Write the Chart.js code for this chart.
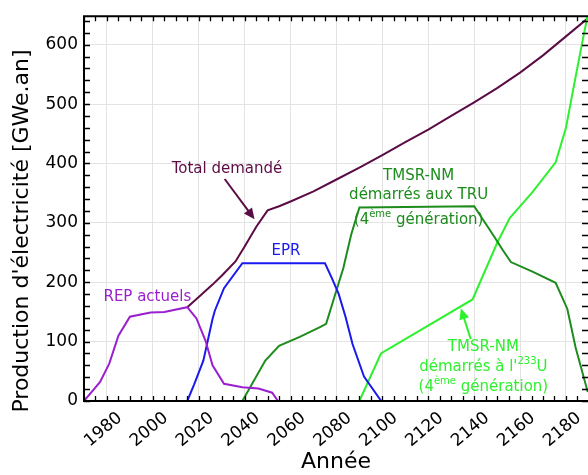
<!DOCTYPE html>
<html>
<head>
<meta charset="utf-8">
<script src="https://cdn.jsdelivr.net/npm/chart.js@4.4.1/dist/chart.umd.min.js"></script>
<style>
  html, body { margin: 0; padding: 0; background: #fff; }
</style>
</head>
<body>
<canvas id="chart" width="588" height="475"></canvas>
<script>
// tick labels
const xTickYears = [1980, 2000, 2020, 2040, 2060, 2080, 2100, 2120, 2140, 2160, 2180];
const yTickValues = [0, 100, 200, 300, 400, 500, 600];

// Total demandé
const totalYears  = [2015, 2020, 2026, 2030, 2036, 2040, 2045, 2050, 2055, 2060, 2070, 2080, 2090, 2100, 2110, 2120, 2130, 2140, 2150, 2160, 2170, 2180, 2190];
const totalValues = [158, 175, 196, 211, 235, 260, 293, 321, 328, 336, 353, 373, 393, 414, 436, 457, 480, 503, 527, 553, 582, 614, 646];

// REP actuels
const repYears  = [1970, 1977, 1981, 1985, 1990, 1999, 2005, 2015, 2019, 2023, 2026, 2031, 2039, 2046, 2052, 2054.5];
const repValues = [0, 32, 63, 110, 142, 149, 150, 158, 139, 101, 60, 29, 23, 21, 14, 0];

// EPR
const eprYears  = [2015, 2018, 2022, 2026, 2027, 2031, 2039, 2075, 2078, 2081, 2084, 2087, 2092, 2099.5];
const eprValues = [0, 28, 68, 138, 152, 190, 232, 232, 207, 180, 141, 96, 41, 0];

// TMSR-NM démarrés aux TRU
const truYears  = [2039, 2049, 2055, 2064, 2072.6, 2075.5, 2079, 2083, 2086.4, 2090, 2140, 2143.6, 2148.7, 2152.3, 2156, 2165.4, 2175.5, 2180.6, 2184.2, 2189.5];
const truValues = [0, 68, 93, 108, 124, 130, 174, 224, 280, 326, 328, 307, 277, 255, 234, 218, 199, 155, 90, 15];

// TMSR-NM démarrés à l'233U
const u233Years  = [2090, 2099.4, 2139.3, 2150, 2155.5, 2165.5, 2175.5, 2180, 2184.2, 2187.5, 2189.5];
const u233Values = [0, 80, 171, 266, 308, 352, 402, 460, 546, 612, 650];

const pts = (xs, ys) => xs.map((x, i) => ({ x: x, y: ys[i] }));

const FONT = "'DejaVu Sans', sans-serif";
const C_TOTAL = '#5c0c45';
const C_REP = '#9b1fcf';
const C_EPR = '#1a1aee';
const C_TRU = '#1d8c1d';
const C_U233 = '#2ef02e';

function line(label, data, color) {
  return {
    label: label,
    data: data,
    borderColor: color,
    backgroundColor: color,
    borderWidth: 2,
    pointRadius: 0,
    fill: false,
    tension: 0
  };
}

// labels on the plot
const notes = [
  { lines: [[['Total demandé', 0]]], x: 2032.3, y: 390, color: C_TOTAL },
  { lines: [[['EPR', 0]]], x: 2058, y: 252, color: C_EPR },
  { lines: [[['REP actuels', 0]]], x: 1997.6, y: 175.5, color: C_REP },
  { lines: [[['TMSR-NM', 0]], [['démarrés aux TRU', 0]], [['(4', 0], ['ème', 1], [' génération)', 0]]],
    x: 2115.8, y: 379.5, dy: [0, 33.5, 75], color: C_TRU },
  { lines: [[['TMSR-NM', 0]], [["démarrés à l'", 0], ['233', 1], ['U', 0]], [['(4', 0], ['ème', 1], [' génération)', 0]]],
    x: 2144, y: 90.5, dy: [0, 33.5, 66.5], color: C_U233 }
];
const arrows = [
  { from: [2031.3, 373.8], to: [2044.3, 306], color: C_TOTAL },
  { from: [2138.5, 104.5], to: [2134.2, 156], color: C_U233 }
];

function drawRich(ctx, parts, cx, cy, size) {
  const supSize = Math.round(size * 0.65);
  let w = 0;
  parts.forEach(p => {
    ctx.font = (p[1] ? supSize : size) + 'px ' + FONT;
    w += ctx.measureText(p[0]).width;
  });
  let x = cx - w / 2;
  parts.forEach(p => {
    ctx.font = (p[1] ? supSize : size) + 'px ' + FONT;
    ctx.fillText(p[0], x, p[1] ? cy - size * 0.38 : cy);
    x += ctx.measureText(p[0]).width;
  });
}

const decorations = {
  id: 'decorations',
  afterDatasetsDraw(chart) {
    const ctx = chart.ctx;
    const xs = chart.scales.x, ys = chart.scales.y;
    ctx.save();
    ctx.textBaseline = 'middle';
    ctx.textAlign = 'left';
    notes.forEach(n => {
      ctx.fillStyle = n.color;
      const cx = xs.getPixelForValue(n.x);
      n.lines.forEach((ln, i) => {
        const v = n.y - (n.dy ? n.dy[i] : 0);
        drawRich(ctx, ln, cx, ys.getPixelForValue(v), 15);
      });
    });
    arrows.forEach(a => {
      const x0 = xs.getPixelForValue(a.from[0]), y0 = ys.getPixelForValue(a.from[1]);
      const x1 = xs.getPixelForValue(a.to[0]), y1 = ys.getPixelForValue(a.to[1]);
      const ang = Math.atan2(y1 - y0, x1 - x0);
      ctx.strokeStyle = a.color;
      ctx.fillStyle = a.color;
      ctx.lineWidth = 2;
      ctx.beginPath();
      ctx.moveTo(x0, y0);
      ctx.lineTo(x1 - 6 * Math.cos(ang), y1 - 6 * Math.sin(ang));
      ctx.stroke();
      ctx.beginPath();
      ctx.moveTo(x1, y1);
      ctx.lineTo(x1 - 11 * Math.cos(ang) + 5 * Math.sin(ang), y1 - 11 * Math.sin(ang) - 5 * Math.cos(ang));
      ctx.lineTo(x1 - 11 * Math.cos(ang) - 5 * Math.sin(ang), y1 - 11 * Math.sin(ang) + 5 * Math.cos(ang));
      ctx.closePath();
      ctx.fill();
    });

    // frame and inward ticks
    const { left, top, right, bottom } = chart.chartArea;
    ctx.strokeStyle = '#000';
    ctx.lineWidth = 1.3;
    ctx.beginPath();
    for (let yr = 1970; yr <= 2190; yr += 5) {
      const px = Math.round(xs.getPixelForValue(yr)) + 0.5;
      if (px < left || px > right) continue;
      ctx.moveTo(px, bottom); ctx.lineTo(px, bottom - 5);
      ctx.moveTo(px, top); ctx.lineTo(px, top + 5);
    }
    for (let v = 0; v <= 640; v += 20) {
      const py = Math.round(ys.getPixelForValue(v)) + 0.5;
      ctx.moveTo(left, py); ctx.lineTo(left + 6, py);
      ctx.moveTo(right, py); ctx.lineTo(right - 6, py);
    }
    ctx.stroke();
    ctx.lineWidth = 2;
    ctx.beginPath();
    ctx.moveTo(right + 2, top); ctx.lineTo(left, top);
    ctx.lineTo(left, bottom); ctx.lineTo(right + 2, bottom);
    ctx.stroke();

    // y axis title
    ctx.fillStyle = '#000';
    ctx.font = '22px ' + FONT;
    ctx.textAlign = 'center';
    ctx.translate(22, 231);
    ctx.rotate(-Math.PI / 2);
    ctx.fillText("Production d'électricité [GWe.an]", 0, 0);
    ctx.restore();
  }
};

new Chart(document.getElementById('chart'), {
  type: 'line',
  data: {
    datasets: [
      line('REP actuels', pts(repYears, repValues), C_REP),
      line('EPR', pts(eprYears, eprValues), C_EPR),
      line('TMSR-NM démarrés aux TRU', pts(truYears, truValues), C_TRU),
      line("TMSR-NM démarrés à l'233U", pts(u233Years, u233Values), C_U233),
      line('Total demandé', pts(totalYears, totalValues), C_TOTAL)
    ]
  },
  options: {
    responsive: false,
    animation: false,
    devicePixelRatio: 1,
    layout: { padding: { top: 12, right: 0, left: 0, bottom: 0 } },
    plugins: { legend: { display: false }, tooltip: { enabled: false } },
    scales: {
      x: {
        type: 'linear',
        min: 1970,
        max: 2189.6,
        afterBuildTicks: s => { s.ticks = xTickYears.map(v => ({ value: v })); },
        afterFit: s => { s.height = 74; },
        grid: { color: '#e3e3e3', lineWidth: 1, drawTicks: false },
        border: { display: false },
        ticks: {
          color: '#000',
          font: { family: FONT, size: 17 },
          minRotation: 40,
          maxRotation: 40,
          padding: 7,
          labelOffset: 13,
          callback: v => String(v)
        },
        title: { display: true, text: 'Année', color: '#000', font: { family: FONT, size: 22 }, padding: 0 }
      },
      y: {
        type: 'linear',
        min: 0,
        max: 648,
        afterBuildTicks: s => { s.ticks = yTickValues.map(v => ({ value: v })); },
        afterFit: s => { s.width = 84; },
        grid: { color: '#e3e3e3', lineWidth: 1, drawTicks: false },
        border: { display: false },
        ticks: {
          color: '#000',
          font: { family: FONT, size: 17 },
          padding: 6,
          callback: v => String(v)
        }
      }
    }
  },
  plugins: [decorations]
});
</script>
</body>
</html>
